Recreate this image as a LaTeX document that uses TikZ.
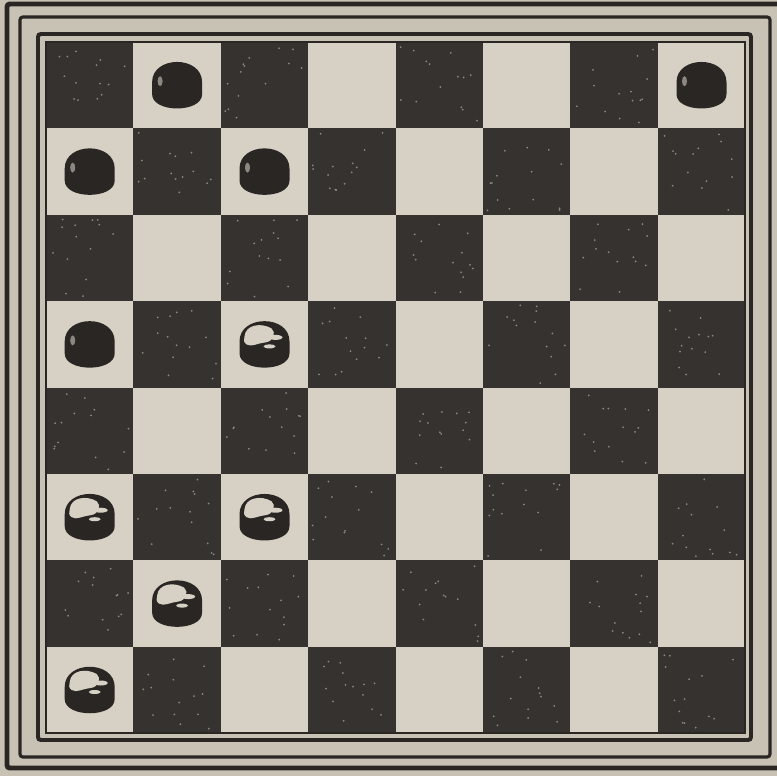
\documentclass[tikz,border=0pt]{standalone}
\usepackage{xcolor}
\usepackage{tikz}
\usetikzlibrary{calc}

\definecolor{paper}{RGB}{200,194,180}
\definecolor{lightsq}{RGB}{214,209,196}
\definecolor{darksq}{RGB}{54,50,47}
\definecolor{ink}{RGB}{42,38,36}
\definecolor{speck}{RGB}{140,135,127}

% board origin and square size (pixels of the scan)
\newcommand*\boardx{46}
\newcommand*\boardy{42}
\newcommand*\sqw{87.4}
\newcommand*\sqh{86.4}

\begin{document}
\begin{tikzpicture}[
  x=0.025cm, y=-0.025cm,
  frame/.style={draw=ink, line width=#1, rounded corners=2pt},
  man/.pic={
    \fill[ink] (-25,-3) .. controls (-25,-30) and (25,-30) .. (25,-3)
      -- (25,9) .. controls (25,28) and (-25,28) .. (-25,9) -- cycle;
  },
  blackman/.pic={
    \pic{man};
    \fill[speck] (-17,-4) ellipse[x radius=2.5, y radius=5];
  },
  whiteman/.pic={
    \pic{man};
    \fill[lightsq] (-20,-8) .. controls (-19,-20) and (-3,-22) .. (7,-16)
      .. controls (12,-12) and (9,-3) .. (1,-2)
      .. controls (-8,-1) and (-13,3) .. (-18,0)
      .. controls (-21,-2) and (-21,-5) .. (-20,-8) -- cycle;
    \fill[lightsq] (11,-7) ellipse[x radius=7, y radius=2.5];
    \fill[lightsq] (5,2) ellipse[x radius=6, y radius=2];
  }
]
  \useasboundingbox (0,0) rectangle (777,776);
  \fill[paper] (0,0) rectangle (777,776);

  % frames
  \draw[frame=3.5pt] (7,4) rectangle (800,768);
  \draw[frame=2.2pt] (20,17) rectangle (770,757);
  \draw[frame=2.8pt] (38,34) rectangle (751,740);

  % squares
  \fill[lightsq] (\boardx,\boardy) rectangle ++({8*\sqw},{8*\sqh});
  \pgfmathsetseed{11}
  \foreach \r in {0,...,7}{
    \foreach \k in {0,...,3}{
      \pgfmathsetmacro\cx{\boardx+(2*\k+mod(\r,2))*\sqw}
      \pgfmathsetmacro\cy{\boardy+\r*\sqh}
      \fill[darksq] (\cx,\cy) rectangle ++(\sqw,\sqh);
      \foreach \s in {1,...,14}
        \fill[speck] ({\cx+4+rnd*(\sqw-8)},{\cy+4+rnd*(\sqh-8)}) circle (1);
    }
  }
  \draw[ink, line width=1.2pt] (\boardx,\boardy) rectangle ++({8*\sqw},{8*\sqh});

  % men
  \foreach \r/\c/\n in {0/1/bA, 0/7/bB, 1/0/bC, 1/2/bD, 3/0/bE}
    \pic (\n) at ({\boardx+(\c+.5)*\sqw},{\boardy+(\r+.5)*\sqh}) {blackman};
  \foreach \r/\c/\n in {3/2/wA, 5/0/wB, 5/2/wC, 6/1/wD, 7/0/wE}
    \pic (\n) at ({\boardx+(\c+.5)*\sqw},{\boardy+(\r+.5)*\sqh}) {whiteman};
\end{tikzpicture}
\end{document}
